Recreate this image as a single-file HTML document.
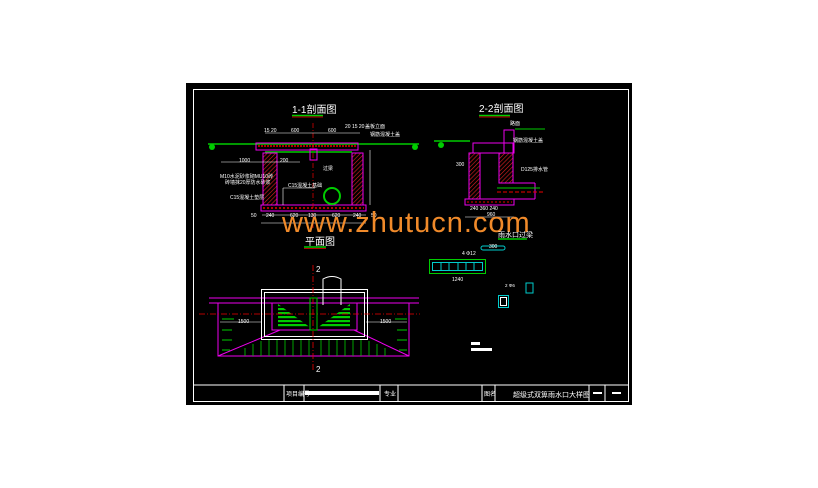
<!DOCTYPE html>
<html><head><meta charset="utf-8"><style>
html,body{margin:0;padding:0;background:#fff;width:818px;height:488px;overflow:hidden}
svg{position:absolute;left:0;top:0}
text{font-family:"Liberation Sans","Noto Sans CJK SC",sans-serif}
</style></head><body>
<svg width="818" height="488" viewBox="0 0 818 488" xmlns="http://www.w3.org/2000/svg">
<defs>
<pattern id="h" width="3" height="3" patternUnits="userSpaceOnUse" patternTransform="rotate(45)">
<rect width="3" height="3" fill="#000"/><line x1="0" y1="0" x2="0" y2="3" stroke="#e02020" stroke-width="1.2"/></pattern>
<pattern id="g" width="4" height="4" patternUnits="userSpaceOnUse">
<rect width="4" height="4" fill="#000"/><rect width="4" height="2.2" fill="#0c0"/></pattern>
</defs>
<rect x="186" y="83" width="446" height="322" fill="#000"/>
<rect x="193.5" y="89.5" width="435" height="312" fill="none" stroke="#fff" stroke-width="1"/>
<!-- title block -->
<line x1="193" y1="385" x2="629" y2="385" stroke="#fff"/>
<g stroke="#fff">
<line x1="284" y1="385" x2="284" y2="402"/><line x1="304" y1="385" x2="304" y2="402"/>
<line x1="380" y1="385" x2="380" y2="402"/><line x1="398" y1="385" x2="398" y2="402"/>
<line x1="482" y1="385" x2="482" y2="402"/><line x1="495" y1="385" x2="495" y2="402"/>
<line x1="589" y1="385" x2="589" y2="402"/><line x1="605" y1="385" x2="605" y2="402"/>
</g>
<rect x="305" y="391" width="74" height="4" fill="#fff"/>
<rect x="593" y="392" width="9" height="2" fill="#fff"/><rect x="612" y="392" width="9" height="2" fill="#fff"/>
<text x="286" y="396" font-size="6" fill="#fff">项目编号</text>
<text x="384" y="396" font-size="6" fill="#fff">专业</text>
<text x="484" y="396" font-size="6" fill="#fff">图名</text>
<text x="513" y="397" font-size="7" fill="#fff">超级式双箅雨水口大样图</text>

<!-- 1-1 section -->
<text x="292" y="113" font-size="10" fill="#fff">1-1剖面图</text>
<line x1="292" y1="115.5" x2="323" y2="115.5" stroke="#0c0" stroke-width="1.5"/>
<line x1="292" y1="117" x2="323" y2="117" stroke="#e00" stroke-width="0.8"/>
<line x1="208" y1="144" x2="419" y2="144" stroke="#0c0" stroke-width="1.5"/>
<circle cx="212" cy="147" r="3" fill="#0c0"/><circle cx="415" cy="147" r="3" fill="#0c0"/>
<rect x="256" y="143" width="102" height="7" fill="none" stroke="#e0e" stroke-width="1"/>
<line x1="258" y1="146" x2="356" y2="146" stroke="#e00" stroke-width="1.5" stroke-dasharray="2,1"/>
<line x1="265" y1="152" x2="352" y2="152" stroke="#0c0" stroke-width="1.5"/>
<rect x="263" y="153" width="14" height="52" fill="url(#h)" stroke="#e0e"/>
<rect x="352" y="153" width="11" height="52" fill="url(#h)" stroke="#e0e"/>
<rect x="310" y="149" width="7" height="11" fill="none" stroke="#e0e"/>
<rect x="261" y="205" width="105" height="6" fill="#000" stroke="#e0e"/>
<line x1="263" y1="208" x2="364" y2="208" stroke="#e00" stroke-width="1.5" stroke-dasharray="2,2"/>
<circle cx="332" cy="196" r="8" fill="none" stroke="#0c0" stroke-width="2"/>
<line x1="313" y1="123" x2="313" y2="228" stroke="#e00" stroke-width="0.7" stroke-dasharray="5,2,1,2"/>
<g stroke="#fff" stroke-width="0.6" fill="none">
<line x1="265" y1="133" x2="360" y2="133"/><line x1="262" y1="215" x2="366" y2="215"/>
<line x1="261" y1="223" x2="366" y2="223"/><line x1="221" y1="162" x2="300" y2="162"/>
<line x1="370" y1="150" x2="370" y2="205"/><line x1="283" y1="188" x2="283" y2="205"/>
<line x1="283" y1="188" x2="315" y2="188"/>
</g>
<g font-size="5" fill="#fff">
<text x="264" y="132">15 20</text><text x="291" y="132">600</text><text x="328" y="132">600</text>
<text x="345" y="128">20 15 20</text><text x="365" y="128">盖板立面</text><text x="370" y="136">钢筋混凝土盖</text>
<text x="239" y="162">1000</text><text x="280" y="162">200</text>
<text x="220" y="178">M10水泥砂浆砌MU10砖</text><text x="225" y="184">砖墙抹20厚防水砂浆</text>
<text x="230" y="199">C15混凝土垫层</text><text x="288" y="187">C15混凝土基础</text>
<text x="323" y="170">过梁</text>
<text x="251" y="217">50</text><text x="266" y="217">240</text><text x="290" y="217">620</text><text x="308" y="217">130</text><text x="332" y="217">620</text><text x="353" y="217">240</text><text x="371" y="217">50</text>
</g>

<!-- 2-2 section -->
<text x="479" y="112" font-size="10" fill="#fff">2-2剖面图</text>
<line x1="479" y1="115.5" x2="510" y2="115.5" stroke="#0c0" stroke-width="1.5"/>
<line x1="479" y1="117" x2="510" y2="117" stroke="#e00" stroke-width="0.8"/>
<line x1="434" y1="141" x2="470" y2="141" stroke="#0c0" stroke-width="1.5"/>
<circle cx="441" cy="145" r="3" fill="#0c0"/>
<line x1="515" y1="129" x2="545" y2="129" stroke="#0c0" stroke-width="1"/>
<rect x="473" y="143" width="40" height="10" fill="none" stroke="#e0e"/>
<rect x="469" y="153" width="11" height="47" fill="url(#h)" stroke="#e0e"/>
<rect x="499" y="153" width="14" height="30" fill="url(#h)" stroke="#e0e"/>
<rect x="504" y="130" width="10" height="23" fill="none" stroke="#e0e"/>
<rect x="465" y="199" width="49" height="6" fill="#000" stroke="#e0e"/>
<line x1="467" y1="202" x2="512" y2="202" stroke="#e00" stroke-dasharray="2,2"/>
<g stroke="#e0e" fill="none"><line x1="500" y1="183" x2="535" y2="183"/><line x1="500" y1="199" x2="535" y2="199"/><line x1="535" y1="183" x2="535" y2="199"/></g>
<line x1="497" y1="192" x2="545" y2="192" stroke="#e00" stroke-dasharray="4,2"/>
<line x1="497" y1="188" x2="540" y2="188" stroke="#0c0"/>
<line x1="465" y1="217" x2="514" y2="217" stroke="#fff" stroke-width="0.6"/>
<g font-size="5" fill="#fff"><text x="510" y="125">路面</text><text x="513" y="142">钢筋混凝土盖</text><text x="521" y="171">D125排水管</text>
<text x="456" y="166">300</text><text x="470" y="210">240 360 240</text><text x="487" y="216">960</text></g>

<!-- watermark -->
<text x="282" y="232" font-size="29" fill="#f08a2a" font-family="Liberation Mono,monospace" letter-spacing="1">www.zhutucn.com</text>

<!-- plan -->
<text x="305" y="245" font-size="10" fill="#fff">平面图</text>
<line x1="304" y1="247" x2="326" y2="247" stroke="#0c0" stroke-width="1.5"/>
<line x1="304" y1="248.5" x2="326" y2="248.5" stroke="#e00" stroke-width="0.8"/>
<g stroke="#e0e" fill="none" stroke-width="1">
<line x1="209" y1="298" x2="419" y2="298"/><line x1="209" y1="303" x2="419" y2="303"/>
<polyline points="218,303 218,356 409,356 409,303"/>
<line x1="218" y1="356" x2="280" y2="330"/><line x1="409" y1="356" x2="354" y2="330"/>
<line x1="280" y1="330" x2="354" y2="330"/>
</g>
<rect x="261.5" y="289.5" width="106" height="50" fill="none" stroke="#fff"/>
<rect x="264.5" y="292.5" width="100" height="44" fill="none" stroke="#fff"/>
<rect x="272" y="303" width="85" height="27" fill="none" stroke="#e0e"/>
<polygon points="278,304 311,328 278,328" fill="url(#g)"/>
<polygon points="350,304 317,328 350,328" fill="url(#g)"/>
<path d="M323 305 V279 Q332 274 341 279 V305" fill="none" stroke="#fff"/>
<line x1="199" y1="314" x2="420" y2="314" stroke="#e00" stroke-width="0.8" stroke-dasharray="6,2,1,2"/>
<line x1="313" y1="265" x2="313" y2="372" stroke="#e00" stroke-width="0.8" stroke-dasharray="6,2,1,2"/>
<rect x="310" y="298" width="7" height="32" fill="none" stroke="#0c0"/>
<g stroke="#0c0" stroke-width="1">
<line x1="222" y1="319" x2="234" y2="319"/><line x1="222" y1="330" x2="232" y2="330"/><line x1="222" y1="340" x2="232" y2="340"/><line x1="222" y1="350" x2="230" y2="350"/>
<line x1="395" y1="319" x2="407" y2="319"/><line x1="397" y1="330" x2="407" y2="330"/><line x1="397" y1="340" x2="407" y2="340"/><line x1="399" y1="350" x2="407" y2="350"/>
</g>
<g stroke="#0c0" stroke-width="0.8">
<line x1="245" y1="348" x2="245" y2="356"/><line x1="253" y1="344" x2="253" y2="356"/><line x1="261" y1="341" x2="261" y2="356"/><line x1="269" y1="340" x2="269" y2="356"/><line x1="277" y1="340" x2="277" y2="356"/><line x1="285" y1="340" x2="285" y2="356"/><line x1="293" y1="340" x2="293" y2="356"/><line x1="301" y1="340" x2="301" y2="356"/><line x1="309" y1="340" x2="309" y2="356"/><line x1="321" y1="340" x2="321" y2="356"/><line x1="329" y1="340" x2="329" y2="356"/><line x1="337" y1="340" x2="337" y2="356"/><line x1="345" y1="340" x2="345" y2="356"/><line x1="353" y1="340" x2="353" y2="356"/><line x1="361" y1="340" x2="361" y2="356"/><line x1="369" y1="341" x2="369" y2="356"/><line x1="377" y1="344" x2="377" y2="356"/><line x1="385" y1="348" x2="385" y2="356"/>
</g>
<g font-size="8" fill="#fff"><text x="316" y="272">2</text><text x="316" y="372">2</text></g>
<g font-size="5" fill="#fff"><text x="238" y="323">1500</text><text x="380" y="323">1500</text></g>
<line x1="220" y1="322" x2="262" y2="322" stroke="#fff" stroke-width="0.5"/>
<line x1="366" y1="322" x2="407" y2="322" stroke="#fff" stroke-width="0.5"/>

<!-- inlet detail -->
<text x="498" y="237" font-size="7" fill="#fff">雨水口过梁</text>
<line x1="498" y1="239" x2="527" y2="239" stroke="#0c0" stroke-width="1.5"/>
<rect x="481" y="246" width="24" height="4" rx="2" fill="none" stroke="#0cc"/>
<text x="489" y="248" font-size="5" fill="#fff">300</text>
<rect x="429.5" y="259.5" width="56" height="14" fill="none" stroke="#0c0"/>
<rect x="432.5" y="262.5" width="50" height="8" fill="none" stroke="#0cc"/>
<g stroke="#0cc"><line x1="441" y1="262" x2="441" y2="271"/><line x1="449" y1="262" x2="449" y2="271"/><line x1="458" y1="262" x2="458" y2="271"/><line x1="466" y1="262" x2="466" y2="271"/><line x1="474" y1="262" x2="474" y2="271"/></g>
<text x="462" y="255" font-size="5" fill="#fff">4 Φ12</text>
<text x="452" y="281" font-size="5" fill="#fff">1240</text>
<rect x="498.5" y="295.5" width="10" height="12" fill="none" stroke="#0cc"/>
<rect x="500.5" y="297.5" width="6" height="8" fill="none" stroke="#fff"/>
<rect x="526" y="283" width="7" height="10" fill="none" stroke="#0cc"/>
<text x="505" y="287" font-size="4.5" fill="#fff">2 Φ6</text>
<rect x="471" y="342" width="9" height="3" fill="#fff"/><rect x="471" y="348" width="21" height="3" fill="#fff"/>
</svg>
</body></html>
